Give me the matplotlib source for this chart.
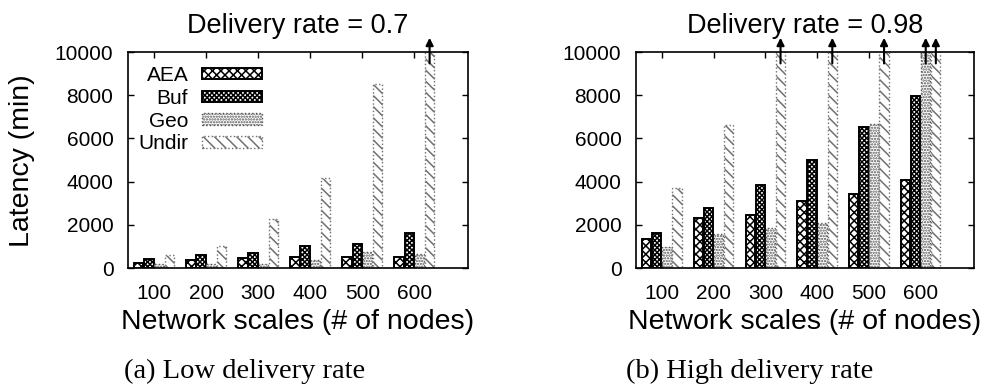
import numpy as np
import matplotlib
matplotlib.use("Agg")
import matplotlib.pyplot as plt

plt.rcParams['font.family'] = ['Liberation Sans', 'DejaVu Sans']
plt.rcParams['hatch.linewidth'] = 1.1

# Network sizes and latency (minutes) for each scheme
scales = ["100", "200", "300", "400", "500", "600"]
series = ["AEA", "Buf", "Geo", "Undir"]

# Delivery rate = 0.7 (values above 10000 are off the scale)
low_aea = [220, 370, 460, 510, 510, 510]
low_buf = [400, 590, 690, 1000, 1110, 1620]
low_geo = [200, 200, 200, 370, 740, 630]
low_undir = [590, 1020, 2250, 4170, 8520, 12000]

# Delivery rate = 0.98 (values above 10000 are off the scale)
high_aea = [1340, 2310, 2450, 3100, 3430, 4070]
high_buf = [1620, 2780, 3840, 5020, 6540, 7950]
high_geo = [970, 1590, 1840, 2080, 6650, 12000]
high_undir = [3700, 6600, 12000, 12000, 12000, 12000]

y_max = 10000
y_ticks = [0, 2000, 4000, 6000, 8000, 10000]

styles = [
    dict(facecolor="white", edgecolor="black", hatch="xxxx", linewidth=1.4, linestyle="-"),
    dict(facecolor="white", edgecolor="black", hatch="xxxxxxx", linewidth=1.4, linestyle="-"),
    dict(facecolor="white", edgecolor="#555555", hatch="......", linewidth=1.0, linestyle=":"),
    dict(facecolor="white", edgecolor="#707070", hatch="\\\\\\", linewidth=1.0, linestyle=":"),
]

W, H = 987, 392
fig = plt.figure(figsize=(W / 100, H / 100), dpi=100)
ax_low = fig.add_axes([128 / W, 1 - 268 / H, 340 / W, 216 / H])
ax_high = fig.add_axes([636 / W, 1 - 268 / H, 338 / W, 216 / H])

x = np.arange(len(scales))
step = 0.195
bar_w = 0.18


def draw_panel(ax, data, title, legend=False):
    for k, (name, vals) in enumerate(zip(series, data)):
        pos = x + (k - 1.5) * step
        ax.bar(pos, vals, width=bar_w, label=name, zorder=3, **styles[k])
        for p, v in zip(pos, vals):
            if v > y_max:
                ax.annotate("", xy=(p, y_max * 1.066), xytext=(p, y_max * 0.947),
                            arrowprops=dict(arrowstyle="-|>", color="black", lw=1.5,
                                            mutation_scale=11, shrinkA=0, shrinkB=0),
                            annotation_clip=False, zorder=5)
    ax.set_xlim(-0.5, 6.03)
    ax.set_ylim(0, y_max)
    ax.set_yticks(y_ticks)
    ax.set_xticks(x)
    ax.set_xticklabels(scales)
    ax.tick_params(direction="in", top=True, right=True, length=4, width=1,
                   labelsize=15)
    ax.tick_params(axis="y", pad=10.5)
    ax.tick_params(axis="x", pad=11.5)
    for s in ax.spines.values():
        s.set_linewidth(1.2)
        s.set_zorder(6)
    ax.set_title(title, fontsize=19.5, pad=14)
    ax.set_xlabel("Network scales (# of nodes)", fontsize=20.5)
    ax.xaxis.set_label_coords(0.5, -0.19)
    if legend:
        ax.legend(loc="upper right", bbox_to_anchor=(0.394, 0.935), frameon=False,
                  markerfirst=False, fontsize=15, handlelength=2.88,
                  handleheight=0.48, handletextpad=0.66, labelspacing=0.18,
                  borderpad=0, borderaxespad=0)


draw_panel(ax_low, [low_aea, low_buf, low_geo, low_undir],
           "Delivery rate = 0.7", legend=True)
draw_panel(ax_high, [high_aea, high_buf, high_geo, high_undir],
           "Delivery rate = 0.98")

fig.text(22.5 / W, 1 - 161 / H, "Latency (min)", rotation=90, ha="center",
         va="center", fontsize=20.5)

fig.text(245 / W, 1 - 377.7 / H, "(a) Low delivery rate", ha="center",
         va="baseline", fontsize=20.5, family=["Liberation Serif", "DejaVu Serif"])
fig.text(750 / W, 1 - 377.7 / H, "(b) High delivery rate", ha="center",
         va="baseline", fontsize=20.5, family=["Liberation Serif", "DejaVu Serif"])

fig.savefig("out.png", dpi=100)
